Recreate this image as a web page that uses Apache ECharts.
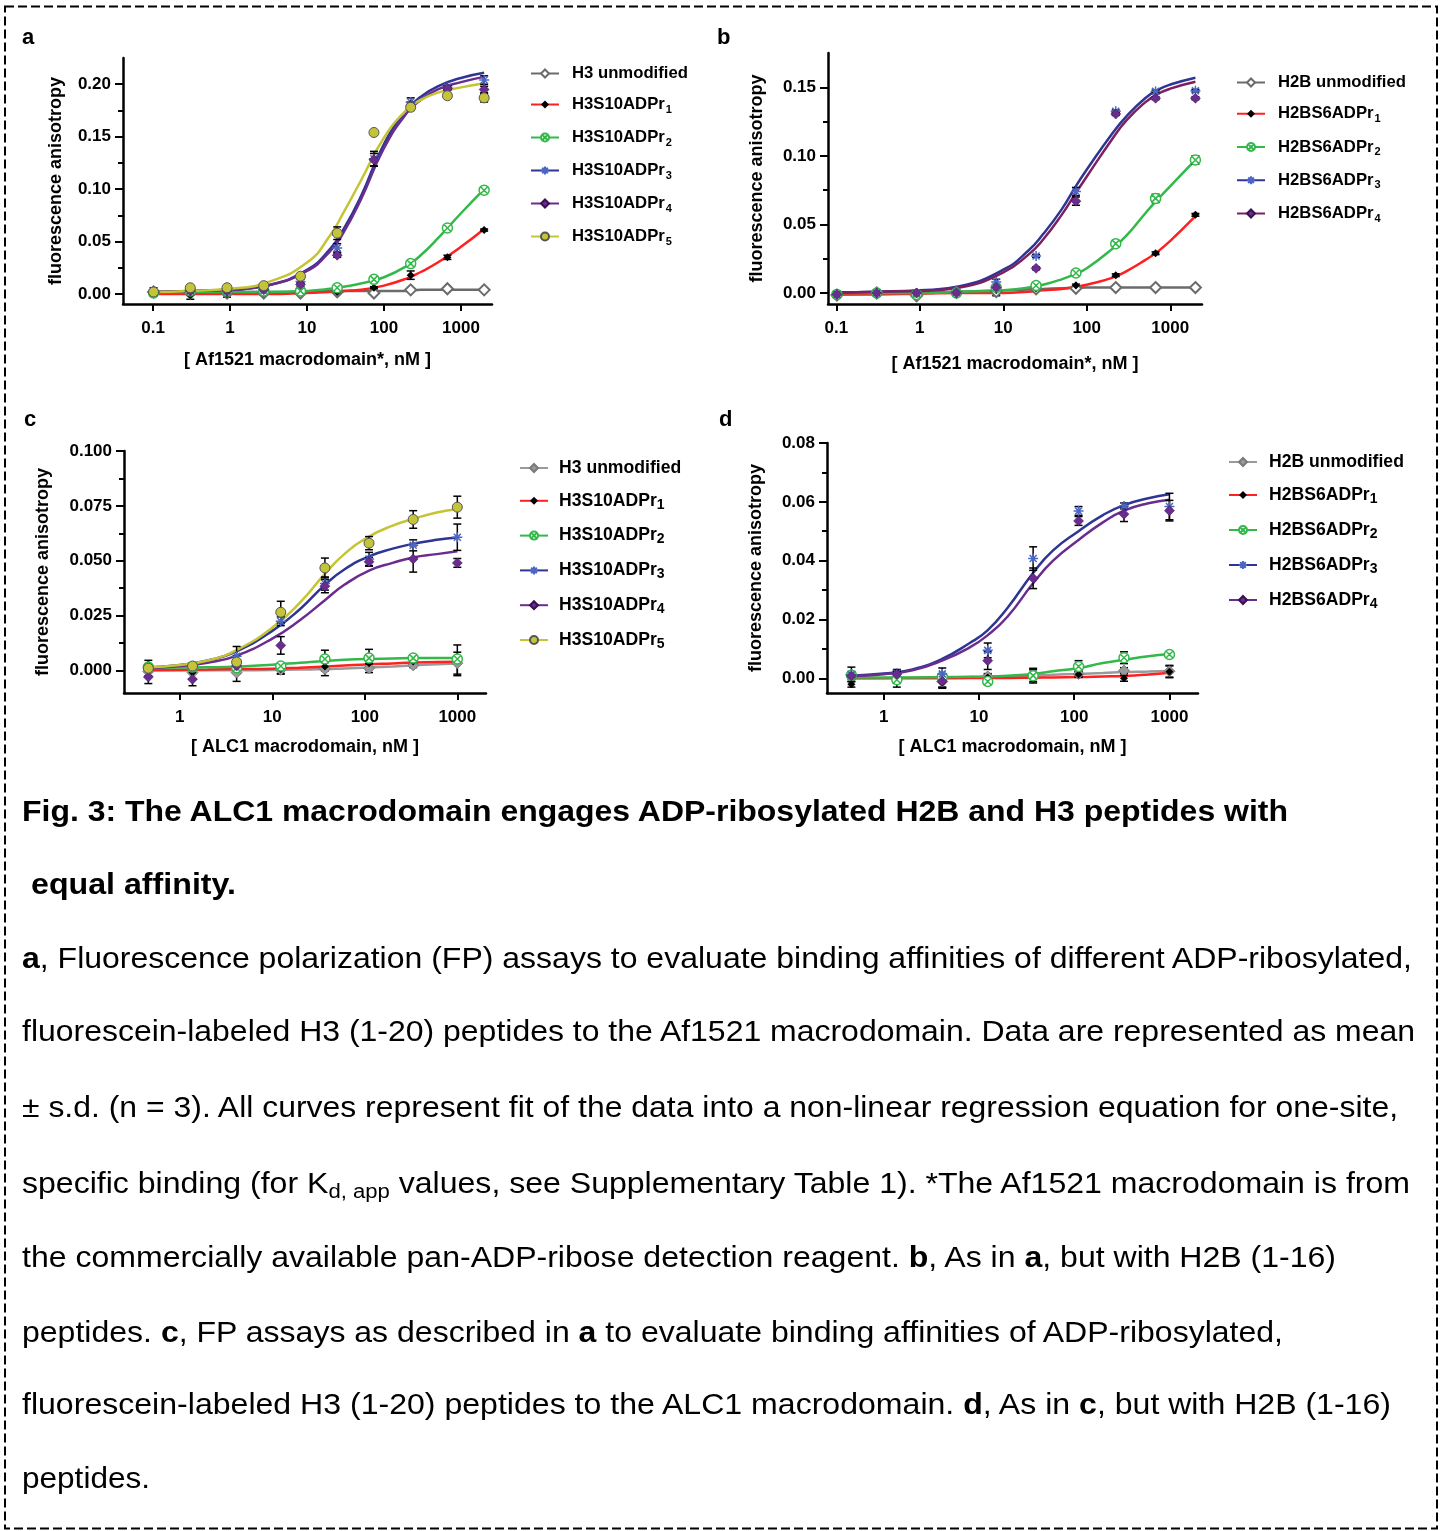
<!DOCTYPE html>
<html>
<head>
<meta charset="utf-8">
<script src="https://cdn.jsdelivr.net/npm/echarts@6/dist/echarts.min.js"></script>
<style>
html, body { margin: 0; padding: 0; background: #fff; }
#wrap { position: relative; width: 1443px; height: 1531px; overflow: hidden; }
#chart { position: absolute; left: 0; top: 0; width: 1443px; height: 1531px; }
.cap { position: absolute; white-space: nowrap; font-family: 'Liberation Sans', Arial, sans-serif;
       font-size: 29px; line-height: 34px; color: #000; transform-origin: 0 0; }
.cap sub { font-size: 20px; vertical-align: -5px; line-height: 0; }
</style>
</head>
<body>
<div id="wrap">
  <div id="chart"></div>
</div>
<script>
// ---- data ----
// concentrations, nM
const concAB = [0.1016, 0.3048, 0.9145, 2.743, 8.230, 24.69, 74.07, 222.2, 666.7, 2000];
const concCD = [0.4572, 1.372, 4.115, 12.35, 37.04, 111.1, 333.3, 1000];

const namesA = ['H3 unmodified', 'H3S10ADPr1', 'H3S10ADPr2', 'H3S10ADPr3', 'H3S10ADPr4', 'H3S10ADPr5'];
const namesB = ['H2B unmodified', 'H2BS6ADPr1', 'H2BS6ADPr2', 'H2BS6ADPr3', 'H2BS6ADPr4'];
const namesC = ['H3 unmodified', 'H3S10ADPr1', 'H3S10ADPr2', 'H3S10ADPr3', 'H3S10ADPr4', 'H3S10ADPr5'];
const namesD = ['H2B unmodified', 'H2BS6ADPr1', 'H2BS6ADPr2', 'H2BS6ADPr3', 'H2BS6ADPr4'];

// panel a : means / sd
const ptsA = [
  [0.002, 0.001, 0.001, 0.001, 0.001, 0.002, 0.001, 0.004, 0.005, 0.004],
  [0.000, -0.001, 0.000, 0.001, 0.002, 0.002, 0.006, 0.018, 0.035, 0.061],
  [0.001, 0.003, 0.003, 0.003, 0.003, 0.006, 0.014, 0.029, 0.063, 0.099],
  [0.002, 0.003, 0.003, 0.005, 0.012, 0.044, 0.129, 0.183, 0.197, 0.204],
  [0.002, 0.003, 0.003, 0.004, 0.009, 0.037, 0.128, 0.180, 0.196, 0.195],
  [0.002, 0.006, 0.006, 0.008, 0.017, 0.058, 0.154, 0.178, 0.189, 0.187]
];
const sdA = [
  [0.004, 0.002, 0.002, 0.002, 0.001, 0.001, 0.001, 0.001, 0.001, 0.001],
  [0.001, 0.004, 0.003, 0.002, 0.001, 0.001, 0.001, 0.004, 0.002, 0.001],
  [0.001, 0.001, 0.001, 0.001, 0.001, 0.001, 0.001, 0.001, 0.001, 0.001],
  [0.001, 0.001, 0.001, 0.001, 0.002, 0.004, 0.007, 0.004, 0.002, 0.004],
  [0.001, 0.001, 0.001, 0.001, 0.002, 0.002, 0.006, 0.003, 0.002, 0.003],
  [0.001, 0.001, 0.001, 0.001, 0.002, 0.006, 0.001, 0.003, 0.002, 0.004]
];
const fitXA = [0.1, 0.3, 1, 3, 10, 20, 30, 50, 100, 200, 300, 500, 1000, 2000];
const fitA = [
  [0.002, 0.002, 0.002, 0.002, 0.002, 0.003, 0.003, 0.003, 0.003, 0.003, 0.004, 0.004, 0.004, 0.004],
  [0.000, 0.000, 0.000, 0.000, 0.001, 0.002, 0.003, 0.004, 0.008, 0.015, 0.021, 0.030, 0.045, 0.062],
  [0.002, 0.002, 0.002, 0.002, 0.003, 0.005, 0.007, 0.010, 0.016, 0.027, 0.037, 0.053, 0.077, 0.100],
  [0.002, 0.003, 0.004, 0.008, 0.023, 0.043, 0.062, 0.093, 0.143, 0.176, 0.188, 0.198, 0.206, 0.211],
  [0.002, 0.003, 0.004, 0.008, 0.022, 0.041, 0.059, 0.090, 0.139, 0.173, 0.185, 0.195, 0.202, 0.207],
  [0.002, 0.003, 0.005, 0.011, 0.030, 0.056, 0.078, 0.108, 0.149, 0.176, 0.185, 0.192, 0.197, 0.201]
];

// panel b
const ptsB = [
  [-0.0015, 0.000, -0.002, 0.0005, 0.001, 0.003, 0.0035, 0.004, 0.004, 0.004],
  [-0.002, 0.000, 0.001, 0.000, 0.002, 0.0035, 0.0055, 0.013, 0.029, 0.057],
  [-0.001, 0.000, -0.001, 0.000, 0.004, 0.0055, 0.0146, 0.036, 0.069, 0.097],
  [-0.001, 0.000, 0.000, 0.001, 0.008, 0.027, 0.074, 0.1325, 0.147, 0.1475],
  [-0.001, 0.000, 0.000, 0.000, 0.004, 0.018, 0.067, 0.1305, 0.142, 0.142]
];
const sdB = [
  [0.002, 0.002, 0.001, 0.001, 0.003, 0.001, 0.001, 0.001, 0.001, 0.001],
  [0.001, 0.001, 0.001, 0.001, 0.001, 0.001, 0.001, 0.001, 0.001, 0.001],
  [0.001, 0.001, 0.001, 0.001, 0.001, 0.001, 0.001, 0.001, 0.003, 0.003],
  [0.001, 0.001, 0.001, 0.001, 0.002, 0.001, 0.003, 0.001, 0.001, 0.001],
  [0.001, 0.001, 0.001, 0.001, 0.001, 0.001, 0.003, 0.001, 0.001, 0.001]
];
const fitXB = [0.1, 0.3, 1, 3, 10, 20, 30, 50, 74, 100, 200, 300, 500, 700, 1000, 2000];
const fitB = [
  [-0.001, -0.0005, 0.000, 0.001, 0.002, 0.0025, 0.003, 0.0035, 0.0038, 0.004, 0.004, 0.004, 0.004, 0.004, 0.004, 0.004],
  [-0.001, -0.001, -0.0005, 0.000, 0.000, 0.001, 0.002, 0.003, 0.0045, 0.006, 0.011, 0.016, 0.024, 0.030, 0.038, 0.056],
  [0.000, 0.000, 0.000, 0.001, 0.002, 0.004, 0.006, 0.010, 0.014, 0.018, 0.032, 0.042, 0.058, 0.068, 0.078, 0.097],
  [0.0005, 0.001, 0.002, 0.005, 0.017, 0.031, 0.043, 0.061, 0.078, 0.090, 0.116, 0.129, 0.142, 0.148, 0.152, 0.157],
  [0.000, 0.001, 0.0015, 0.004, 0.015, 0.028, 0.039, 0.057, 0.073, 0.085, 0.112, 0.126, 0.139, 0.145, 0.149, 0.154]
];

// panel c
const ptsC = [
  [-0.0005, -0.001, -0.001, 0.0003, 0.0006, 0.001, 0.0023, 0.0033],
  [0.0026, -0.001, 0.0026, 0.0006, 0.0018, 0.0033, 0.0041, 0.0046],
  [0.0015, 0.0015, 0.0012, 0.002, 0.0052, 0.0056, 0.0056, 0.0052],
  [0.001, 0.002, 0.0064, 0.0224, 0.0396, 0.0508, 0.057, 0.0607],
  [-0.003, -0.004, 0.002, 0.0114, 0.0384, 0.0495, 0.0508, 0.049],
  [0.001, 0.002, 0.0038, 0.0265, 0.0467, 0.058, 0.0688, 0.0744]
];
const sdC = [
  [0.002, 0.003, 0.004, 0.002, 0.003, 0.002, 0.001, 0.005],
  [0.002, 0.003, 0.004, 0.002, 0.002, 0.003, 0.001, 0.007],
  [0.001, 0.001, 0.001, 0.001, 0.004, 0.004, 0.001, 0.001],
  [0.001, 0.001, 0.0045, 0.002, 0.003, 0.003, 0.0025, 0.006],
  [0.003, 0.003, 0.002, 0.004, 0.003, 0.002, 0.006, 0.002],
  [0.001, 0.001, 0.001, 0.005, 0.0045, 0.003, 0.004, 0.005]
];
const fitXC = [0.4572, 1, 2, 4, 10, 20, 37, 60, 111, 200, 333, 600, 1000];
const fitC = [
  [0.000, 0.000, 0.0001, 0.0001, 0.0002, 0.0004, 0.0006, 0.0009, 0.0013, 0.0018, 0.0023, 0.0028, 0.0032],
  [0.0002, 0.0003, 0.0004, 0.0006, 0.0008, 0.0012, 0.0017, 0.0022, 0.0028, 0.0032, 0.0036, 0.0038, 0.004],
  [0.0012, 0.0013, 0.0014, 0.0017, 0.0026, 0.0035, 0.0043, 0.0048, 0.0052, 0.0054, 0.0056, 0.0057, 0.0057],
  [0.0013, 0.0025, 0.0045, 0.0085, 0.018, 0.028, 0.039, 0.046, 0.052, 0.0555, 0.0577, 0.0595, 0.0606],
  [0.001, 0.002, 0.0035, 0.0065, 0.0145, 0.023, 0.032, 0.039, 0.0455, 0.049, 0.0515, 0.053, 0.0543],
  [0.0013, 0.0025, 0.0045, 0.009, 0.0195, 0.031, 0.044, 0.053, 0.061, 0.066, 0.069, 0.072, 0.0735]
];

// panel d
const ptsD = [
  [0.0013, 0.0003, -0.0011, 0.0006, 0.0009, 0.0015, 0.0026, 0.0024],
  [-0.002, 0.000, -0.0014, 0.0003, 0.0009, 0.0013, 0.000, 0.0022],
  [0.001, -0.0005, 0.0005, -0.0011, 0.0009, 0.004, 0.007, 0.0081],
  [0.0013, 0.0017, 0.0015, 0.0095, 0.0407, 0.0569, 0.0586, 0.0584],
  [0.0008, 0.0014, -0.001, 0.006, 0.034, 0.0535, 0.0558, 0.057]
];
const sdD = [
  [0.0025, 0.002, 0.002, 0.001, 0.0025, 0.001, 0.001, 0.002],
  [0.001, 0.003, 0.002, 0.001, 0.002, 0.001, 0.001, 0.002],
  [0.001, 0.001, 0.001, 0.001, 0.001, 0.002, 0.002, 0.0005],
  [0.001, 0.001, 0.002, 0.0025, 0.004, 0.0015, 0.001, 0.0045],
  [0.001, 0.001, 0.002, 0.003, 0.0035, 0.0015, 0.0025, 0.0035]
];
const fitXD = [0.4572, 1, 2, 4.1, 8, 12.3, 20, 37, 60, 111, 200, 333, 600, 1000];
const fitD = [
  [0.000, 0.0001, 0.0002, 0.0003, 0.0004, 0.0005, 0.0006, 0.0009, 0.0012, 0.0015, 0.0018, 0.0021, 0.0023, 0.0025],
  [0.000, 0.000, 0.000, 0.000, 0.0001, 0.0001, 0.0001, 0.0002, 0.0003, 0.0004, 0.0006, 0.0008, 0.0013, 0.0019],
  [0.0003, 0.0003, 0.0003, 0.0004, 0.0005, 0.0006, 0.0009, 0.0015, 0.0024, 0.0035, 0.0052, 0.0063, 0.0075, 0.0083],
  [0.0009, 0.0016, 0.003, 0.0066, 0.012, 0.0163, 0.024, 0.0358, 0.0435, 0.05, 0.0555, 0.0589, 0.0612, 0.0626],
  [0.0008, 0.0014, 0.0027, 0.006, 0.0105, 0.0146, 0.021, 0.0323, 0.04, 0.047, 0.053, 0.057, 0.0595, 0.0607]
];

// tick values
const xTicksAB = [0.1, 1, 10, 100, 1000];
const xTicksCD = [1, 10, 100, 1000];
const yTicksA = [0, 0.05, 0.10, 0.15, 0.20];
const yMinorA = [0.025, 0.075, 0.125, 0.175];
const yTicksB = [0, 0.05, 0.10, 0.15];
const yMinorB = [0.025, 0.075, 0.125];
const yTicksC = [0, 0.025, 0.05, 0.075, 0.1];
const yMinorC = [0.0125, 0.0375, 0.0625, 0.0875];
const yTicksD = [0, 0.02, 0.04, 0.06, 0.08];
const yMinorD = [0.01, 0.03, 0.05, 0.07];

// ---- styles ----
const FONT = "'Liberation Sans', Arial, sans-serif";
const symCross = 'path://M0,10A10,10,0,1,1,20,10A10,10,0,1,1,0,10ZM3,3L17,17M17,3L3,17';
const symStar = 'path://M10,0L10,20M0,10L20,10M3,3L17,17M17,3L3,17';

const sGray = { line: '#6b6b6b', symbol: 'diamond', size: 11, fill: '#fff', stroke: '#6b6b6b', bw: 2 };
const sGrayL = { line: '#9a9a9a', symbol: 'diamond', size: 11, fill: '#9a9a9a', stroke: '#7a7a7a', bw: 1 };
const sRed = { line: '#ff2020', symbol: 'diamond', size: 8, fill: '#000', stroke: '#000', bw: 0 };
const sGreen = { line: '#33b84a', symbol: symCross, size: 10, fill: '#fff', stroke: '#33b84a', bw: 1.5 };
const sBlue = { line: '#2e3592', symbol: symStar, size: 10, fill: '#4b66c4', stroke: '#4b66c4', bw: 1.5 };
const sPurple = { line: '#6a2d8f', symbol: 'diamond', size: 10, fill: '#6a2d8f', stroke: '#3a1050', bw: 0.5 };
const sMaroon = { line: '#7d1f60', symbol: 'diamond', size: 10, fill: '#6a2d8f', stroke: '#3a1050', bw: 0.5 };
const sYellow = { line: '#c4c434', symbol: 'circle', size: 10, fill: '#c4c43a', stroke: '#555', bw: 1 };

const lg = v => Math.log10(v);

function errBar(params, api) {
  const x = api.value(0), y = api.value(1), s = api.value(2);
  const p1 = api.coord([x, y + s]), p2 = api.coord([x, y - s]);
  const w = 4;
  const st = { stroke: '#000', lineWidth: 1.5 };
  return {
    type: 'group',
    children: [
      { type: 'line', shape: { x1: p1[0], y1: p1[1], x2: p2[0], y2: p2[1] }, style: st },
      { type: 'line', shape: { x1: p1[0] - w, y1: p1[1], x2: p1[0] + w, y2: p1[1] }, style: st },
      { type: 'line', shape: { x1: p2[0] - w, y1: p2[1], x2: p2[0] + w, y2: p2[1] }, style: st }
    ]
  };
}

function buildPanel(gi, tag, names, styles, conc, pts, sds, fitX, fits) {
  const out = [];
  names.forEach((n, i) => {
    const st = styles[i];
    out.push({
      type: 'line', name: tag + '|' + n, xAxisIndex: gi, yAxisIndex: gi * 2,
      data: fitX.map((x, k) => [lg(x), fits[i][k]]),
      smooth: 0.5, showSymbol: false,
      symbol: st.symbol, symbolSize: st.size,
      itemStyle: { color: st.fill, borderColor: st.stroke, borderWidth: st.bw },
      lineStyle: { color: st.line, width: 2.5 },
      z: 2, silent: true
    });
  });
  names.forEach((n, i) => {
    out.push({
      type: 'custom', name: tag + '|eb' + i, xAxisIndex: gi, yAxisIndex: gi * 2,
      encode: { x: 0, y: 1 },
      data: conc.map((x, k) => [lg(x), pts[i][k], sds[i][k]]),
      renderItem: errBar, z: 3, silent: true
    });
  });
  names.forEach((n, i) => {
    const st = styles[i];
    out.push({
      type: 'scatter', name: tag + '|pt' + i, xAxisIndex: gi, yAxisIndex: gi * 2,
      data: conc.map((x, k) => [lg(x), pts[i][k]]),
      symbol: st.symbol, symbolSize: st.size,
      itemStyle: { color: st.fill, borderColor: st.stroke, borderWidth: st.bw, opacity: 1 },
      z: 4, silent: true
    });
  });
  return out;
}

const labelFont = { color: '#000', fontFamily: FONT, fontWeight: 'bold', fontSize: 17 };
const titleFont = { color: '#000', fontFamily: FONT, fontWeight: 'bold', fontSize: 18 };
const axisLine = { color: '#000', width: 2.5 };

function fmtConc(v) {
  const n = Math.pow(10, v);
  return n < 1 ? n.toFixed(1) : String(Math.round(n));
}

// layout per panel
const panels = [
  { grid: { left: 123, top: 58, width: 369, height: 246 }, xMin: -1.39, xMax: 3.403, xTicks: xTicksAB,
    yMin: -0.0095, yMax: 0.225, yTicks: yTicksA, yMinor: yMinorA, dec: 2,
    xName: '[ Af1521 macrodomain*, nM ]', xGap: 47, yGap: 58 },
  { grid: { left: 828, top: 53, width: 374, height: 251 }, xMin: -1.10, xMax: 3.38, xTicks: xTicksAB,
    yMin: -0.008, yMax: 0.175, yTicks: yTicksB, yMinor: yMinorB, dec: 2,
    xName: '[ Af1521 macrodomain*, nM ]', xGap: 51, yGap: 62 },
  { grid: { left: 124, top: 451, width: 362, height: 242 }, xMin: -0.603, xMax: 3.31, xTicks: xTicksCD,
    yMin: -0.0103, yMax: 0.1, yTicks: yTicksC, yMinor: yMinorC, dec: 3,
    xName: '[ ALC1 macrodomain, nM ]', xGap: 45, yGap: 72 },
  { grid: { left: 827, top: 443, width: 371, height: 250 }, xMin: -0.596, xMax: 3.30, xTicks: xTicksCD,
    yMin: -0.005, yMax: 0.08, yTicks: yTicksD, yMinor: yMinorD, dec: 2,
    xName: '[ ALC1 macrodomain, nM ]', xGap: 45, yGap: 62 }
];

const grids = [], xAxes = [], yAxes = [];
panels.forEach((p, gi) => {
  grids.push(Object.assign({ outerBoundsMode: 'none', containLabel: false }, p.grid));
  const xt = p.xTicks.map(lg);
  xAxes.push({
    gridIndex: gi, type: 'value', min: p.xMin, max: p.xMax,
    axisLine: { onZero: false, lineStyle: axisLine },
    axisTick: { customValues: xt, length: 7, lineStyle: { color: '#000', width: 2 } },
    axisLabel: Object.assign({ customValues: xt, formatter: fmtConc, margin: 16 }, labelFont),
    splitLine: { show: false },
    name: p.xName, nameLocation: 'middle', nameGap: p.xGap, nameTextStyle: titleFont
  });
  yAxes.push({
    gridIndex: gi, type: 'value', position: 'left', min: p.yMin, max: p.yMax,
    axisLine: { onZero: false, lineStyle: axisLine },
    axisTick: { customValues: p.yTicks, length: 8, lineStyle: { color: '#000', width: 2 } },
    axisLabel: Object.assign({ customValues: p.yTicks, formatter: v => v.toFixed(p.dec), margin: 12 }, labelFont),
    splitLine: { show: false },
    name: 'fluorescence anisotropy', nameLocation: 'middle', nameGap: p.yGap, nameTextStyle: titleFont
  });
  yAxes.push({
    gridIndex: gi, type: 'value', position: 'left', min: p.yMin, max: p.yMax,
    axisLine: { show: false, onZero: false },
    axisTick: { customValues: p.yMinor, length: 5, lineStyle: { color: '#000', width: 2 } },
    axisLabel: { show: false },
    splitLine: { show: false }
  });
});

const series = [].concat(
  buildPanel(0, 'a', namesA, [sGray, sRed, sGreen, sBlue, sPurple, sYellow], concAB, ptsA, sdA, fitXA, fitA),
  buildPanel(1, 'b', namesB, [sGray, sRed, sGreen, sBlue, sMaroon], concAB, ptsB, sdB, fitXB, fitB),
  buildPanel(2, 'c', namesC, [sGrayL, sRed, sGreen, sBlue, sPurple, sYellow], concCD, ptsC, sdC, fitXC, fitC),
  buildPanel(3, 'd', namesD, [sGrayL, sRed, sGreen, sBlue, sPurple], concCD, ptsD, sdD, fitXD, fitD)
);

function fmtName(full) {
  const n = full.split('|')[1];
  const m = n.match(/^(.*ADPr)(\d)$/);
  return m ? '{b|' + m[1] + '}{s|' + m[2] + '}' : '{b|' + n + '}';
}

function legendFor(tag, names, left, top, gap, big, padL) {
  const fs = big ? 17.6 : 16.7;
  return {
    data: names.map(n => tag + '|' + n),
    orient: 'vertical', left: left, top: top, padding: 0, itemGap: gap,
    itemWidth: 28, itemHeight: 10, selectedMode: false,
    formatter: fmtName,
    textStyle: {
      color: '#000', fontFamily: FONT, fontWeight: 'bold', fontSize: fs,
      rich: {
        b: { color: '#000', fontFamily: FONT, fontWeight: 'bold', fontSize: fs, lineHeight: 22, padding: [0, 0, 0, padL] },
        s: big
          ? { color: '#000', fontFamily: FONT, fontWeight: 'bold', fontSize: 14, lineHeight: 14, padding: [8, 0, 0, 0] }
          : { color: '#000', fontFamily: FONT, fontWeight: 'bold', fontSize: 11, lineHeight: 12, padding: [10, 0, 0, 1] }
      }
    }
  };
}

const legends = [
  legendFor('a', namesA, 530, 65, 12.0, false, 8),
  legendFor('b', namesB, 1236, 74, 12.25, false, 8),
  legendFor('c', namesC, 519, 459, 12.8, true, 6),
  legendFor('d', namesD, 1228, 453, 13.0, true, 7)
];

const letters = [['a', 22, 38], ['b', 717, 38], ['c', 24, 420], ['d', 719, 420]];
const graphic = [
  { type: 'rect', shape: { x: 5, y: 6.5, width: 1432, height: 1522 },
    style: { fill: null, stroke: '#000', lineWidth: 2, lineDash: [9, 4] }, silent: true }
].concat(letters.map(l => ({
  type: 'text', silent: true,
  style: { text: l[0], x: l[1], y: l[2], fill: '#000', fontFamily: FONT, fontWeight: 'bold', fontSize: 22, verticalAlign: 'middle' }
})));

const chart = echarts.init(document.getElementById('chart'), null, { renderer: 'canvas' });
chart.setOption({
  animation: false,
  backgroundColor: '#fff',
  grid: grids,
  xAxis: xAxes,
  yAxis: yAxes,
  legend: legends,
  graphic: graphic,
  series: series
});

// ---- caption ----
const capLines = [
  [22, 1288, 812, '<b>Fig. 3: The ALC1 macrodomain engages ADP-ribosylated H2B and H3 peptides with</b>'],
  [31, 236, 885, '<b>equal affinity.</b>'],
  [22, 1412, 959, '<b>a</b>, Fluorescence polarization (FP) assays to evaluate binding affinities of different ADP-ribosylated,'],
  [22, 1415, 1032, 'fluorescein-labeled H3 (1-20) peptides to the Af1521 macrodomain. Data are represented as mean'],
  [22, 1398, 1108, '± s.d. (n = 3). All curves represent fit of the data into a non-linear regression equation for one-site,'],
  [22, 1410, 1184, 'specific binding (for K<sub>d, app</sub> values, see Supplementary Table 1). *The Af1521 macrodomain is from'],
  [22, 1336, 1258, 'the commercially available pan-ADP-ribose detection reagent. <b>b</b>, As in <b>a</b>, but with H2B (1-16)'],
  [22, 1283, 1333, 'peptides. <b>c</b>, FP assays as described in <b>a</b> to evaluate binding affinities of ADP-ribosylated,'],
  [22, 1391, 1405, 'fluorescein-labeled H3 (1-20) peptides to the ALC1 macrodomain. <b>d</b>, As in <b>c</b>, but with H2B (1-16)'],
  [22, 150, 1479, 'peptides.']
];
const wrap = document.getElementById('wrap');
capLines.forEach(c => {
  const d = document.createElement('div');
  d.className = 'cap';
  d.innerHTML = c[3];
  d.style.left = c[0] + 'px';
  d.style.top = (c[2] - 18) + 'px';
  wrap.appendChild(d);
  const w = d.getBoundingClientRect().width;
  d.style.transform = 'scaleX(' + ((c[1] - c[0]) / w).toFixed(4) + ')';
});
</script>
</body>
</html>
